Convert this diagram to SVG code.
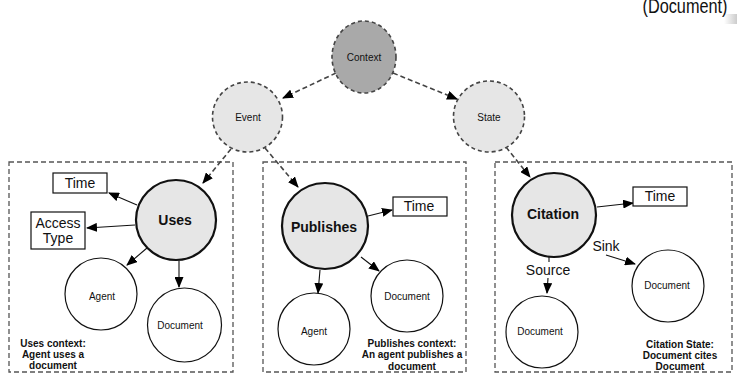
<svg xmlns="http://www.w3.org/2000/svg" width="737" height="378" viewBox="0 0 737 378">
<style>
text{font-family:"Liberation Sans",Arial,sans-serif;fill:#111;text-anchor:middle;dominant-baseline:central}
.s{font-size:10px}
.m{font-size:14px}
.b{font-size:14px;font-weight:bold}
.n{font-size:10px;font-weight:bold}
.dc{stroke:#444;stroke-width:1.6;stroke-dasharray:4 3}
.box{fill:none;stroke:#555;stroke-width:1.3;stroke-dasharray:5 3}
.big{fill:#e6e6e6;stroke:#111;stroke-width:2.2}
.sm{fill:#fff;stroke:#111;stroke-width:1.2}
.rb{fill:#fff;stroke:#111;stroke-width:1.2}
.a{stroke:#111;stroke-width:1.1;fill:none}
.ah{marker-end:url(#ah)}
.da{stroke:#444;stroke-width:1.6;stroke-dasharray:5 3;fill:none;marker-end:url(#ah)}
</style>
<defs>
<marker id="ah" markerUnits="userSpaceOnUse" markerWidth="11" markerHeight="9" refX="10" refY="4.5" orient="auto">
<path d="M0,0 L11,4.5 L0,9 z" fill="#000"/>
</marker>
<linearGradient id="sh" x1="0" y1="0" x2="1" y2="0">
<stop offset="0" stop-color="#fff"/><stop offset="1" stop-color="#ccc"/>
</linearGradient>
</defs>
<rect width="737" height="378" fill="#fff"/>
<rect x="724" y="14" width="13" height="10" fill="url(#sh)"/>
<text x="685" y="13" style="font-size:20px;dominant-baseline:auto" textLength="85" lengthAdjust="spacingAndGlyphs">(Document)</text>

<g id="box-uses"><rect class="box" x="9" y="162" width="224" height="210"/></g>
<g id="box-publishes"><rect class="box" x="263" y="162" width="203" height="210"/></g>
<g id="box-citation"><rect class="box" x="495" y="162" width="237" height="210"/></g>

<g id="connectors">
<line class="da" x1="336" y1="73" x2="283" y2="98"/>
<line class="da" x1="393" y1="73" x2="457" y2="99"/>
<line class="da" x1="231" y1="149" x2="203" y2="183"/>
<line class="da" x1="265" y1="148" x2="298" y2="187"/>
<line class="da" x1="506" y1="147" x2="530" y2="177"/>
<line class="a ah" x1="137" y1="205" x2="109" y2="193"/>
<line class="a ah" x1="135" y1="225" x2="87" y2="228"/>
<line class="a ah" x1="147" y1="248" x2="127" y2="265"/>
<line class="a ah" x1="179" y1="261" x2="179" y2="287"/>
<line class="a ah" x1="368" y1="216" x2="392" y2="210"/>
<line class="a ah" x1="361" y1="257" x2="379" y2="271"/>
<line class="a ah" x1="320" y1="270" x2="318" y2="293"/>
<line class="a ah" x1="597" y1="207" x2="633" y2="203"/>
<line class="a ah" x1="606" y1="255" x2="635" y2="264"/>
<line class="a" x1="549" y1="257" x2="549" y2="262"/>
<line class="a ah" x1="548" y1="278" x2="547" y2="293"/>
<text x="606" y="246" class="m">Sink</text>
<text x="548" y="270" class="m">Source</text>
</g>

<g id="context"><ellipse class="dc" cx="364" cy="57" rx="32" ry="36" fill="#a9a9a9"/><text x="364" y="57" class="s">Context</text></g>
<g id="event"><circle class="dc" cx="247.5" cy="117" r="35" fill="#e6e6e6"/><text x="248" y="117" class="s">Event</text></g>
<g id="state"><circle class="dc" cx="489" cy="116.5" r="35.5" fill="#e6e6e6"/><text x="489" y="117" class="s">State</text></g>

<g id="uses"><circle class="big" cx="176" cy="220" r="40"/><text x="175" y="220" class="b">Uses</text></g>
<g id="uses-time"><rect class="rb" x="53" y="173" width="54" height="20"/><text x="80" y="183" class="m">Time</text></g>
<g id="uses-access"><rect class="rb" x="31" y="212" width="54" height="37"/><text x="58" y="223" class="m">Access</text><text x="58" y="238" class="m">Type</text></g>
<g id="uses-agent"><circle class="sm" cx="101" cy="294" r="36"/><text x="102" y="296" class="s">Agent</text></g>
<g id="uses-document"><circle class="sm" cx="184.5" cy="325" r="37"/><text x="180" y="325" class="s">Document</text></g>
<g id="uses-note"><text x="53" y="343" class="n">Uses context:</text><text x="53" y="354" class="n">Agent uses a</text><text x="53" y="365" class="n">document</text></g>

<g id="publishes"><circle class="big" cx="325" cy="226" r="43"/><text x="324" y="227" class="b">Publishes</text></g>
<g id="publishes-time"><rect class="rb" x="393" y="197" width="54" height="19"/><text x="419" y="206" class="m">Time</text></g>
<g id="publishes-document"><circle class="sm" cx="407" cy="296" r="36"/><text x="407" y="296" class="s">Document</text></g>
<g id="publishes-agent"><circle class="sm" cx="314" cy="329" r="36"/><text x="314" y="331" class="s">Agent</text></g>
<g id="publishes-note"><text x="412" y="343" class="n">Publishes context:</text><text x="412" y="354" class="n">An agent publishes a</text><text x="412" y="366" class="n">document</text></g>

<g id="citation"><circle class="big" cx="554" cy="215" r="42"/><text x="553" y="214" class="b">Citation</text></g>
<g id="citation-time"><rect class="rb" x="633" y="187" width="54" height="19"/><text x="660" y="196" class="m">Time</text></g>
<g id="sink-document"><circle class="sm" cx="668" cy="286" r="36"/><text x="667" y="285" class="s">Document</text></g>
<g id="source-document"><circle class="sm" cx="542" cy="332" r="36"/><text x="540" y="331" class="s">Document</text></g>
<g id="citation-note"><text x="680" y="344" class="n">Citation State:</text><text x="680" y="355" class="n">Document cites</text><text x="680" y="366" class="n">Document</text></g>
</svg>
